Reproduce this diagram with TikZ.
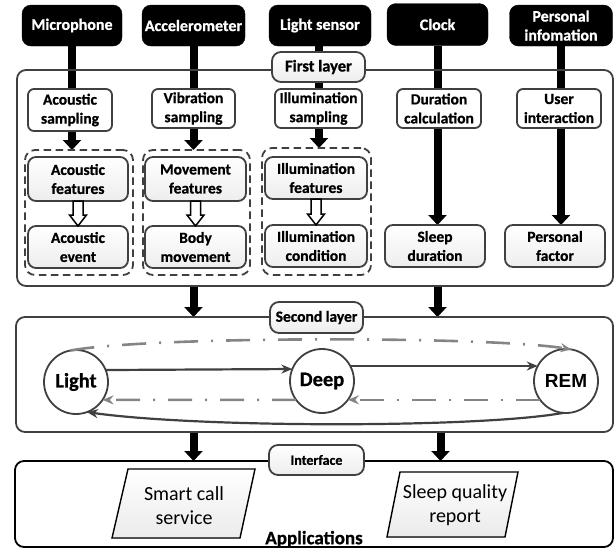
\documentclass[tikz,border=0pt]{standalone}
\usepackage{fontspec}
\setmainfont{Carlito}[BoldFeatures={FakeBold=0.8}]
\newfontfamily\remfont{Liberation Sans}
\usetikzlibrary{arrows.meta,calc}
\pgfdeclarelayer{back}
\pgfdeclarelayer{mid}
\pgfsetlayers{back,mid,main}
\definecolor{bd}{HTML}{404040}
\definecolor{dd}{HTML}{858585}
\newcommand{\hollowarr}[2]{%
  \filldraw[hollowarrow] ($(#1.south)+(-5,0)$) -- ($(#1.south |- #2.north)+(-5,-11)$) --
    ($(#1.south |- #2.north)+(-8.5,-11)$) -- (#1.south |- #2.north) --
    ($(#1.south |- #2.north)+(8.5,-11)$) -- ($(#1.south |- #2.north)+(5,-11)$) --
    ($(#1.south)+(5,0)$) -- cycle;}
\begin{document}
\begin{tikzpicture}[x=1pt,y=-1pt,
  topbox/.style={fill=black, draw=black, rounded corners=9pt, text=white,
    font=\bfseries\fontsize{16}{19}\selectfont, align=center, inner sep=0pt, outer sep=0pt},
  wbox/.style={fill=white, draw=bd, line width=1.8pt, rounded corners=6pt,
    font=\bfseries\fontsize{15.5}{19}\selectfont, align=center, inner sep=0pt, outer sep=0pt},
  gbox/.style={wbox, top color=white, bottom color=gray!14, rounded corners=8pt},
  grp/.style={draw=bd, line width=1.8pt, dash pattern=on 7.5pt off 4.5pt, rounded corners=10pt, inner sep=0pt, outer sep=0pt},
  layerframe/.style={draw=bd, line width=1.8pt, rounded corners=9pt, inner sep=0pt, outer sep=0pt},
  lbl/.style={gbox, rounded corners=9pt},
  stnode/.style={circle, draw=bd, line width=1.8pt, fill=white, minimum size=64pt, inner sep=0pt, outer sep=0pt,
    font=\bfseries\fontsize{20.5}{24}\selectfont},
  thickline/.style={draw=black, line width=8pt},
  fatarrow/.style={draw=black, line width=8pt, -{Triangle[length=10pt,width=18pt]}},
  hollowarrow/.style={draw=black, line width=1.5pt, fill=white, line join=miter},
  solidarr/.style={draw=bd, line width=2.2pt, -{Stealth[length=11pt,width=9pt]}},
  dasharr/.style={draw=dd, line width=2.6pt, dash pattern=on 24pt off 13pt on 2pt off 13pt, -{Stealth[length=11pt,width=9pt]}},
  para/.style={draw=black, line width=1.4pt, top color=white, bottom color=gray!16},
  ptext/.style={font=\fontsize{20}{24}\selectfont, align=center, inner sep=0pt}
]
\useasboundingbox (0,0) rectangle (615,550);

% layer frames
\node[layerframe, minimum width=596pt, minimum height=216pt] (L1) at (315,178) {};
\node[layerframe, minimum width=597pt, minimum height=115pt] (L2) at (314.5,374.5) {};
\node[layerframe, draw=black, minimum width=598pt, minimum height=86pt] (L3) at (314,504) {};

% top sources
\node[topbox, minimum width=100pt, minimum height=41pt] (mic) at (72,25.5) {Microphone};
\node[topbox, minimum width=103pt, minimum height=41pt] (acc) at (193.5,25.5) {Accelerometer};
\node[topbox, minimum width=102pt, minimum height=41pt] (lsen) at (320,25.5) {Light sensor};
\node[topbox, minimum width=101pt, minimum height=42pt] (clk) at (437.5,24.5) {Clock};
\node[topbox, minimum width=103pt, minimum height=41pt] (pinf) at (561,25.5) {Personal\\infomation};

% sampling
\node[wbox, minimum width=84pt, minimum height=42pt] (as) at (70,110) {Acoustic\\sampling};
\node[wbox, minimum width=83pt, minimum height=39pt] (vs) at (193.5,108.5) {Vibration\\sampling};
\node[wbox, minimum width=87pt, minimum height=39pt] (is) at (318.5,108.5) {Illumination\\sampling};
\node[wbox, minimum width=84pt, minimum height=39pt] (dc) at (439,108.5) {Duration\\calculation};
\node[wbox, minimum width=84pt, minimum height=39pt] (ui) at (559,108.5) {User\\interaction};

% dashed groups
\node[grp, minimum width=108pt, minimum height=125pt] (ga) at (79,212.5) {};
\node[grp, minimum width=107pt, minimum height=125pt] (gm) at (196.5,212.5) {};
\node[grp, minimum width=109pt, minimum height=127pt] (gi) at (316.5,211.5) {};

% features / results
\node[gbox, minimum width=100pt, minimum height=44pt] (af) at (78,179) {Acoustic\\features};
\node[gbox, minimum width=100pt, minimum height=42pt] (ae) at (78,247) {Acoustic\\event};
\node[gbox, minimum width=101pt, minimum height=44pt] (mf) at (195.5,179) {Movement\\features};
\node[gbox, minimum width=101pt, minimum height=42pt] (bm) at (195.5,247) {Body\\movement};
\node[gbox, minimum width=102pt, minimum height=42pt] (ilf) at (316,178) {Illumination\\features};
\node[gbox, minimum width=102pt, minimum height=42pt] (ic) at (316,246) {Illumination\\condition};
\node[gbox, minimum width=100pt, minimum height=42pt] (sd) at (435,246) {Sleep\\duration};
\node[gbox, minimum width=100pt, minimum height=42pt] (pf) at (555,246) {Personal\\factor};

% layer labels
\node[lbl, minimum width=93pt, minimum height=30pt, font=\bfseries\fontsize{16.5}{19}\selectfont] (fl) at (318.5,67) {First layer};
\node[lbl, minimum width=93pt, minimum height=31pt, font=\bfseries\fontsize{15.5}{19}\selectfont] (sl) at (316.5,317.5) {Second layer};
\node[lbl, minimum width=95pt, minimum height=30pt, font=\bfseries\fontsize{14}{17}\selectfont] (ifc) at (316.5,460) {Interface};

% states
\node[stnode] (light) at (76,382) {Light};
\node[stnode] (deep) at (322,381) {Deep};
\node[stnode, font=\remfont\bfseries\fontsize{19}{24}\selectfont] (rem) at (566,381) {REM};

% applications
\filldraw[para] (128,469) -- (255,469) -- (240,538) -- (112,538) -- cycle;
\node[ptext] (scs) at (184,506) {Smart call\\service};
\filldraw[para] (400,472) -- (518,472) -- (505,537) -- (387,537) -- cycle;
\node[ptext] (sqr) at (455,505) {Sleep quality\\report};
\node[font=\bfseries\fontsize{19}{22}\selectfont, inner sep=0pt] (apps) at (314,539) {Applications};

\begin{pgfonlayer}{mid}
% source lines
\draw[thickline] (mic.south) -- (as.north -| mic.south);
\draw[thickline] (acc.south) -- (vs.north -| acc.south);
\draw[thickline] ([xshift=-1pt]lsen.south) -- ([xshift=-1pt]is.north -| lsen.south);
\draw[thickline] (clk.south) -- (dc.north -| clk.south);
\draw[thickline] (pinf.south) -- (ui.north -| pinf.south);
% sampling to features
\draw[fatarrow] (as.south -| mic.south) -- (ga.north -| mic.south);
\draw[fatarrow] (vs.south -| acc.south) -- (gm.north -| acc.south);
\draw[fatarrow] ([xshift=-1pt]is.south -| lsen.south) -- ([xshift=-1pt]gi.north -| lsen.south);
\draw[fatarrow] (dc.south -| clk.south) -- (sd.north -| clk.south);
\draw[fatarrow] (ui.south -| pinf.south) -- (pf.north -| pinf.south);
% layer to layer
\draw[fatarrow] (L1.south -| acc.south) -- (L2.north -| acc.south);
\draw[fatarrow] (L1.south -| clk.south) -- (L2.north -| clk.south);
\draw[fatarrow] (L2.south -| acc.south) -- (L3.north -| acc.south);
\draw[fatarrow] ([xshift=3pt]L2.south -| clk.south) -- ([xshift=3pt]L3.north -| clk.south);
\end{pgfonlayer}

% hollow arrows
\hollowarr{af}{ae}
\hollowarr{mf}{bm}
\hollowarr{ilf}{ic}

% second layer transitions
\draw[solidarr] (light.22) -- (deep.158);
\draw[solidarr] (deep.28) -- (rem.152);
\draw[dasharr] (rem.216) -- (deep.-36);
\draw[dasharr] (deep.216) -- (light.-34);
\draw[dasharr] (light.100) .. controls (150,336) and (490,336) .. (rem.80);
\draw[solidarr] (rem.265) .. controls (480,428) and (200,428) .. (light.-70);
\end{tikzpicture}
\end{document}
